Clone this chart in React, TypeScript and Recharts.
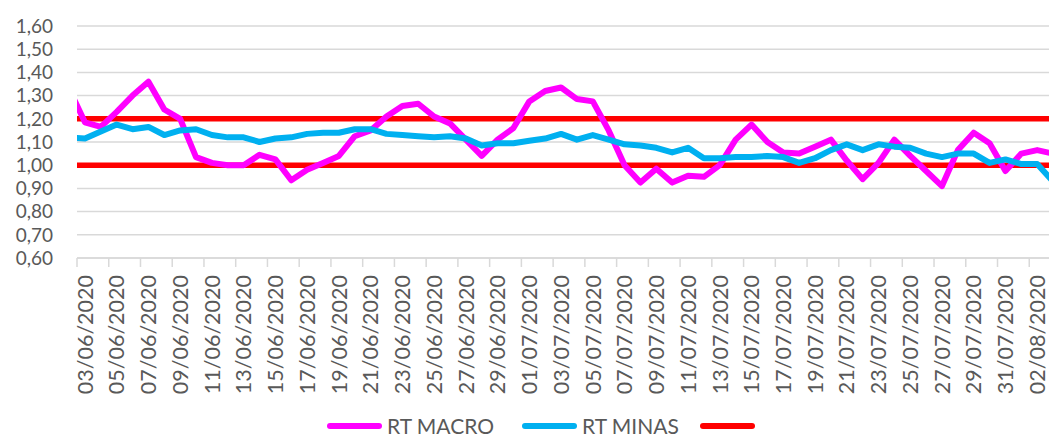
import { LineChart, Line, XAxis, YAxis, CartesianGrid, ReferenceLine, Legend } from 'recharts';

const dates = [
  '02/06/2020', '03/06/2020', '04/06/2020', '05/06/2020', '06/06/2020', '07/06/2020', '08/06/2020',
  '09/06/2020', '10/06/2020', '11/06/2020', '12/06/2020', '13/06/2020', '14/06/2020', '15/06/2020',
  '16/06/2020', '17/06/2020', '18/06/2020', '19/06/2020', '20/06/2020', '21/06/2020', '22/06/2020',
  '23/06/2020', '24/06/2020', '25/06/2020', '26/06/2020', '27/06/2020', '28/06/2020', '29/06/2020',
  '30/06/2020', '01/07/2020', '02/07/2020', '03/07/2020', '04/07/2020', '05/07/2020', '06/07/2020',
  '07/07/2020', '08/07/2020', '09/07/2020', '10/07/2020', '11/07/2020', '12/07/2020', '13/07/2020',
  '14/07/2020', '15/07/2020', '16/07/2020', '17/07/2020', '18/07/2020', '19/07/2020', '20/07/2020',
  '21/07/2020', '22/07/2020', '23/07/2020', '24/07/2020', '25/07/2020', '26/07/2020', '27/07/2020',
  '28/07/2020', '29/07/2020', '30/07/2020', '31/07/2020', '01/08/2020', '02/08/2020', '03/08/2020',
];

const rtMacro = [
  1.33, 1.185, 1.165, 1.23, 1.3, 1.36, 1.24, 1.2, 1.035, 1.01,
  1.0, 1.0, 1.045, 1.025, 0.935, 0.98, 1.01, 1.04, 1.125, 1.15,
  1.21, 1.255, 1.265, 1.21, 1.18, 1.11, 1.04, 1.11, 1.16, 1.275,
  1.32, 1.335, 1.285, 1.275, 1.15, 1.0, 0.925, 0.985, 0.925, 0.955,
  0.95, 1.0, 1.11, 1.175, 1.1, 1.055, 1.05, 1.08, 1.11, 1.02,
  0.94, 1.01, 1.11, 1.04, 0.975, 0.91, 1.065, 1.14, 1.095, 0.975,
  1.05, 1.065, 1.05,
];

const rtMinas = [
  1.12, 1.115, 1.145, 1.175, 1.155, 1.165, 1.13, 1.15, 1.155, 1.13,
  1.12, 1.12, 1.1, 1.115, 1.12, 1.135, 1.14, 1.14, 1.155, 1.155,
  1.135, 1.13, 1.125, 1.12, 1.125, 1.115, 1.085, 1.095, 1.095, 1.105,
  1.115, 1.135, 1.11, 1.13, 1.11, 1.09, 1.085, 1.075, 1.055, 1.075,
  1.03, 1.03, 1.035, 1.035, 1.04, 1.035, 1.01, 1.03, 1.065, 1.09,
  1.065, 1.09, 1.08, 1.075, 1.05, 1.035, 1.05, 1.05, 1.01, 1.025,
  1.005, 1.005, 0.93,
];

const limits = [1.0, 1.2];
const yTicks = [0.6, 0.7, 0.8, 0.9, 1.0, 1.1, 1.2, 1.3, 1.4, 1.5, 1.6];

const data = dates.map((date, i) => ({ i, date, macro: rtMacro[i], minas: rtMinas[i] }));
const labelTicks = data.filter((d) => d.i % 2 === 1).map((d) => d.i);

const CHART_W = 1061;
const Y_W = 77;
const X_DOMAIN: [number, number] = [0.5, 62.5];
const HALF_DAY = (CHART_W - Y_W) / (X_DOMAIN[1] - X_DOMAIN[0]) / 2;

const GRID = '#D9D9D9';
const TEXT = '#595959';
const FONT = 'Lato, "Open Sans", sans-serif';

const legendItems = [
  { label: 'RT MACRO', color: '#FF00FF', left: 327 },
  { label: 'RT MINAS', color: '#00B0F0', left: 522 },
  { label: '', color: '#FF0000', left: 700 },
];

function DateTick(props: any) {
  const { x, y, payload } = props;
  return (
    <g>
      <line x1={x - HALF_DAY} x2={x - HALF_DAY} y1={y - 17} y2={y - 8} stroke={GRID} strokeWidth={1.5} />
      <text
        x={x}
        y={y}
        transform={`rotate(-90, ${x}, ${y})`}
        textAnchor="end"
        dy="0.36em"
        fill={TEXT}
        fontSize={21.5}
        fontFamily={FONT}
      >
        {dates[payload.value]}
      </text>
    </g>
  );
}

function LegendContent() {
  return (
    <div style={{ position: 'relative', height: 26, fontFamily: FONT, fontSize: 21, color: TEXT }}>
      {legendItems.map((it) => (
        <div
          key={it.color}
          style={{ position: 'absolute', left: it.left, top: 0, height: 26, display: 'flex', alignItems: 'center' }}
        >
          <span style={{ display: 'inline-block', width: 55, height: 6, borderRadius: 3, background: it.color }} />
          {it.label && <span style={{ marginLeft: 5, lineHeight: '26px' }}>{it.label}</span>}
        </div>
      ))}
    </div>
  );
}

export default function App() {
  return (
    <div style={{ position: 'fixed', left: 0, top: 0, width: 1049, height: 439, overflow: 'hidden', background: '#fff' }}>
      <LineChart width={CHART_W} height={439} data={data} margin={{ top: 26, right: 0, left: 0, bottom: 0 }}>
        <CartesianGrid vertical={false} stroke={GRID} strokeWidth={1.5} />
        <XAxis
          dataKey="i"
          type="number"
          domain={X_DOMAIN}
          allowDataOverflow
          ticks={labelTicks}
          interval={0}
          height={155}
          tickSize={9}
          tickMargin={8}
          tickLine={false}
          axisLine={{ stroke: GRID, strokeWidth: 1.5 }}
          tick={<DateTick />}
        />
        <YAxis
          type="number"
          domain={[0.6, 1.6]}
          ticks={yTicks}
          interval={0}
          width={Y_W}
          axisLine={false}
          tickLine={false}
          tickMargin={18}
          tickFormatter={(v: number) => v.toFixed(2).replace('.', ',')}
          tick={{ fill: TEXT, fontSize: 19, fontFamily: FONT }}
        />
        {limits.map((v) => (
          <ReferenceLine key={v} y={v} stroke="#FF0000" strokeWidth={5.5} />
        ))}
        <Line
          type="linear"
          dataKey="macro"
          stroke="#FF00FF"
          strokeWidth={6}
          strokeLinejoin="round"
          dot={false}
          isAnimationActive={false}
        />
        <Line
          type="linear"
          dataKey="minas"
          stroke="#00B0F0"
          strokeWidth={6}
          strokeLinejoin="round"
          dot={false}
          isAnimationActive={false}
        />
        <Legend
          verticalAlign="bottom"
          wrapperStyle={{ left: 0, bottom: 0, width: 1049, height: 26 }}
          content={<LegendContent />}
        />
      </LineChart>
    </div>
  );
}
